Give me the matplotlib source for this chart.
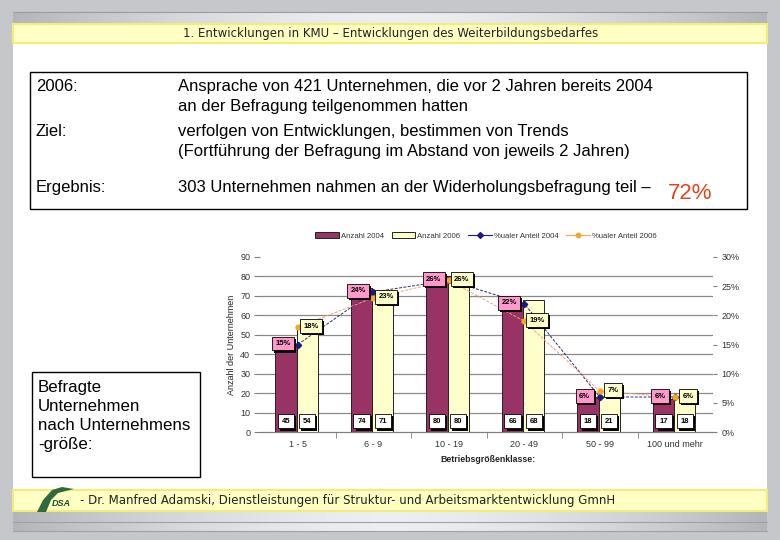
import matplotlib
matplotlib.use('Agg')
import matplotlib.pyplot as plt
import numpy as np
from matplotlib.patches import Rectangle, Polygon
from matplotlib.lines import Line2D
import matplotlib.patheffects as pe

plt.rcParams['font.family'] = ['Liberation Sans', 'DejaVu Sans']

# ---------------- data ----------------
categories = ['1 - 5', '6 - 9', '10 - 19', '20 - 49', '50 - 99', '100 und mehr']
anzahl_2004 = [45, 74, 80, 66, 18, 17]
anzahl_2006 = [54, 71, 80, 68, 21, 18]
anteil_2004 = [15, 24, 26, 22, 6, 6]
anteil_2006 = [18, 23, 26, 19, 7, 6]
left_ticks = [0, 10, 20, 30, 40, 50, 60, 70, 80, 90]
right_ticks = [0, 5, 10, 15, 20, 25, 30]
series_names = ['Anzahl 2004', 'Anzahl 2006', '%ualer Anteil 2004', '%ualer Anteil 2006']

title_text = '1. Entwicklungen in KMU – Entwicklungen des Weiterbildungsbedarfes'
footer_text = '- Dr. Manfred Adamski, Dienstleistungen für Struktur- und Arbeitsmarktentwicklung GmnH'
box_labels = ['2006:', 'Ziel:', 'Ergebnis:']
box_lines = [
    ['Ansprache von 421 Unternehmen, die vor 2 Jahren bereits 2004',
     'an der Befragung teilgenommen hatten'],
    ['verfolgen von Entwicklungen, bestimmen von Trends',
     '(Fortführung der Befragung im Abstand von jeweils 2 Jahren)'],
    ['303 Unternehmen nahmen an der Widerholungsbefragung teil –'],
]
highlight = '72%'
side_lines = ['Befragte', 'Unternehmen', 'nach Unternehmens', '-größe:']

# ---------------- figure ----------------
W, H = 780, 540
fig = plt.figure(figsize=(7.8, 5.4), dpi=100)
fig.patch.set_facecolor('#c6c7ca')

bg = fig.add_axes([0, 0, 1, 1])
bg.set_xlim(0, W)
bg.set_ylim(H, 0)
bg.axis('off')


def prect(l, t, r, b):
    return [l / W, 1 - b / H, (r - l) / W, (b - t) / H]


def gradient_band(x0, x1, y0, y1):
    n = 400
    t = np.abs(np.linspace(-1, 1, n)) ** 1.6
    c_edge = np.array([0.70, 0.71, 0.73])
    c_mid = np.array([0.93, 0.935, 0.95])
    rgb = c_mid[None, :] * (1 - t[:, None]) + c_edge[None, :] * t[:, None]
    img = np.tile(rgb[None, :, :], (2, 1, 1))
    bg.imshow(img, extent=(x0, x1, y1, y0), aspect='auto', zorder=1, interpolation='bilinear')


# white slide
bg.add_patch(Rectangle((13, 12), 754, 480, fc='white', ec='none', zorder=0))
# top gray band + yellow title band
gradient_band(13, 767, 12, 24)
bg.plot([13, 767], [12, 12], color='#9a9b9e', lw=0.8, zorder=2)
bg.add_patch(Rectangle((13, 24), 754, 19, fc='#ffffc4', ec='#f2ec7a', lw=1.5, zorder=2))
bg.text(391, 33.5, title_text, ha='center', va='center', fontsize=8.5, color='#222222',
        family=['DejaVu Sans'], zorder=3)

# footer bands
bg.add_patch(Rectangle((13, 490), 754, 21, fc='#ffffc4', ec='#f2ec7a', lw=1.5, zorder=2))
gradient_band(13, 767, 511, 531)
bg.plot([13, 767], [522, 522], color='#a0a1a4', lw=0.8, zorder=2)
bg.plot([13, 767], [531, 531], color='#a0a1a4', lw=0.8, zorder=2)
bg.text(80, 500.5, footer_text, ha='left', va='center', fontsize=8.5, color='#222222',
        family=['DejaVu Sans'], zorder=3)
# logo
bg.add_patch(Polygon([(37, 512), (46, 512), (51, 500), (58, 493), (74, 489), (62, 487),
                      (52, 490), (43, 500)], closed=True, fc='#2f6b3a', ec='none', zorder=3))
bg.text(61, 503, 'DSA', ha='center', va='center', fontsize=6.5, weight='bold', style='italic',
        color='#1f4a28', zorder=4)

# text box
bg.add_patch(Rectangle((30, 72), 717, 137, fc='white', ec='black', lw=1, zorder=2))
fs = 12.0
label_base = [91, 136, 192]
line_gap = 20
for lab, yb, lines in zip(box_labels, label_base, box_lines):
    bg.text(36, yb, lab, ha='left', va='baseline', fontsize=fs, color='black', zorder=3)
    for k, ln in enumerate(lines):
        bg.text(178, yb + k * line_gap, ln, ha='left', va='baseline', fontsize=fs,
                color='black', zorder=3)
bg.text(668, 199, highlight, ha='left', va='baseline', fontsize=16, color='#e0451f', zorder=3)

# side box
bg.add_patch(Rectangle((32, 372), 168, 105, fc='white', ec='black', lw=1, zorder=2))
for k, ln in enumerate(side_lines):
    bg.text(38, 392 + k * 19, ln, ha='left', va='baseline', fontsize=12.2, color='black',
            zorder=3)

# ---------------- chart ----------------
ax = fig.add_axes(prect(260, 257, 713, 432))
ax.set_facecolor('none')
x = np.arange(len(categories))
bw = 0.28
c_purple = '#993366'
c_yellow = '#ffffcc'
b1 = ax.bar(x - 0.155, anzahl_2004, bw, color=c_purple, edgecolor='#222222', lw=0.7, zorder=3)
b2 = ax.bar(x + 0.125, anzahl_2006, bw, color=c_yellow, edgecolor='#222222', lw=0.7, zorder=3)
ax.set_xlim(-0.5, len(categories) - 0.5)
ax.set_ylim(0, 90)
ax.set_yticks(left_ticks)
ax.set_yticklabels([str(t) for t in left_ticks])
for t in left_ticks[1:-1]:
    ax.axhline(t, color='#8a8a8a', lw=0.9, zorder=1)
for s in ['left', 'right', 'top']:
    ax.spines[s].set_visible(False)
ax.spines['bottom'].set_color('#808080')
ax.spines['bottom'].set_linewidth(0.9)
ax.set_xticks(x)
ax.set_xticklabels(categories)
ax.set_xticks(np.arange(0.5, len(categories) - 1, 1.0), minor=True)
ax.tick_params(axis='x', which='major', length=0, labelsize=6.5, labelcolor='#333333', pad=6)
ax.tick_params(axis='x', which='minor', length=4, color='#808080', direction='out')
ax.tick_params(axis='y', length=4, color='#808080', labelsize=6.5, labelcolor='#333333', pad=3)

shadow = [pe.SimplePatchShadow(offset=(1.5, -1.5), shadow_rgbFace='black', alpha=1.0), pe.Normal()]


def boxed(axis, xy, txt, fc, offset=(0, 0), pad=0.45):
    t = axis.annotate(txt, xy=xy, xytext=offset, textcoords='offset pixels', ha='center',
                      va='center', fontsize=5.5, weight='bold', color='black', zorder=6,
                      bbox=dict(boxstyle=f'square,pad={pad}', fc=fc, ec='black', lw=0.6))
    t.get_bbox_patch().set_path_effects(shadow)
    return t


for i in range(len(categories)):
    boxed(ax, (x[i] - 0.155, 5.6), str(anzahl_2004[i]), 'white', pad=0.5)
    boxed(ax, (x[i] + 0.125, 5.6), str(anzahl_2006[i]), 'white', pad=0.5)

ax2 = ax.twinx()
ax2.set_ylim(0, 30)
ax2.set_yticks(right_ticks)
ax2.set_yticklabels([f'{t}%' for t in right_ticks])
for s in ['left', 'right', 'top', 'bottom']:
    ax2.spines[s].set_visible(False)
ax2.tick_params(axis='y', length=3, color='#808080', labelsize=6.5, labelcolor='#333333', pad=3)
l1, = ax2.plot(x, anteil_2004, color='#2a2a80', lw=0.7, ls=(0, (3, 1.5)), marker='D',
               ms=3.2, mfc='#1a1a80', mec='#1a1a80', zorder=5)
l2, = ax2.plot(x, anteil_2006, color='#f0a070', lw=0.7, ls=(0, (3, 1.5)), marker='o',
               ms=3.5, mfc='#f5a623', mec='#f5a623', zorder=5)
for i in range(len(categories)):
    boxed(ax2, (x[i], anteil_2004[i]), f'{anteil_2004[i]}%', '#ff99cc', offset=(-15, 1))
    boxed(ax2, (x[i], anteil_2006[i]), f'{anteil_2006[i]}%', '#ffffcc', offset=(13, 1))

# legend
h3 = Line2D([], [], color='#1a1a80', lw=0.8, marker='D', ms=3.0)
h4 = Line2D([], [], color='#f4a460', lw=0.8, marker='o', ms=3.2, mfc='#f5a623', mec='#f5a623')
leg = fig.legend([b1, b2, h3, h4], series_names, loc='center',
                 bbox_to_anchor=(486 / W, 1 - 236 / H), ncol=4, frameon=False, fontsize=5.6,
                 handlelength=3.0, handleheight=0.7, handletextpad=0.3, columnspacing=1.0)
for t in leg.get_texts():
    t.set_color('#333333')

# axis titles
bg.text(232, 345, 'Anzahl der Unternehmen', rotation=90, ha='center', va='center',
        fontsize=6.5, color='#222222', zorder=3)
bg.text(488, 459, 'Betriebsgrößenklasse:', ha='center', va='center', fontsize=6.3,
        weight='bold', color='#222222', zorder=3)

fig.savefig('out.png', dpi=100, facecolor=fig.get_facecolor())
